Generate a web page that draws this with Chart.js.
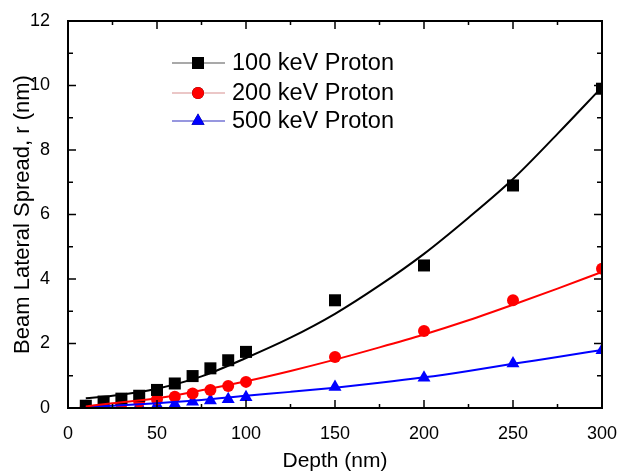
<!DOCTYPE html>
<html>
<head>
<meta charset="utf-8">
<script src="https://cdn.jsdelivr.net/npm/chart.js@4.4.0/dist/chart.umd.min.js"></script>
<style>
    html, body { margin: 0; padding: 0; background: #fff; }
</style>
</head>
<body>
<canvas id="chart" width="617" height="474"></canvas>
<script>
// measured points
const depths = [10, 20, 30, 40, 50, 60, 70, 80, 90, 100, 150, 200, 250, 300];
const spread100 = [0.07, 0.2, 0.29, 0.38, 0.56, 0.76, 0.99, 1.23, 1.48, 1.74, 3.34, 4.42, 6.9, 9.9];
const spread200 = [0.05, 0.07, 0.12, 0.19, 0.27, 0.35, 0.45, 0.56, 0.68, 0.81, 1.58, 2.39, 3.34, 4.32];
const spread500 = [0.03, 0.04, 0.05, 0.07, 0.09, 0.12, 0.19, 0.23, 0.27, 0.33, 0.65, 0.94, 1.38, 1.79];

// fit curves
const fitDepths = [10, 25, 50, 75, 100, 125, 150, 175, 200, 225, 250, 275, 300];
const fit100 = [0.3, 0.38, 0.6, 0.98, 1.55, 2.18, 2.92, 3.8, 4.78, 5.9, 7.1, 8.5, 9.95];
const fit200 = [0.05, 0.15, 0.3, 0.55, 0.83, 1.15, 1.5, 1.88, 2.28, 2.72, 3.2, 3.7, 4.22];
const fit500 = [0.03, 0.07, 0.15, 0.25, 0.38, 0.5, 0.63, 0.78, 0.95, 1.15, 1.37, 1.58, 1.8];

const xTicks = [0, 50, 100, 150, 200, 250, 300];
const yTicks = [0, 2, 4, 6, 8, 10, 12];

const series = [
    { label: '100 keV Proton', pts: spread100, fit: fit100, color: '#000000', legendLine: '#555555', shape: 'rect', radius: 8.5 },
    { label: '200 keV Proton', pts: spread200, fit: fit200, color: '#ff0000', legendLine: '#d89090', shape: 'circle', radius: 6 },
    { label: '500 keV Proton', pts: spread500, fit: fit500, color: '#0000ff', legendLine: '#3030c0', shape: 'triangle', radius: 7.5 }
];

const toXY = (xs, ys) => xs.map((x, i) => ({ x: x, y: ys[i] }));

const datasets = [];
series.forEach(s => {
    datasets.push({
        label: s.label + ' fit',
        data: toXY(fitDepths, s.fit),
        borderColor: s.color,
        borderWidth: 2,
        pointRadius: 0,
        showLine: true,
        cubicInterpolationMode: 'monotone',
        fill: false
    });
});
series.forEach(s => {
    datasets.push({
        label: s.label,
        data: toXY(depths, s.pts),
        backgroundColor: s.color,
        borderColor: s.color,
        borderWidth: 0,
        pointStyle: s.shape,
        pointRadius: s.radius,
        showLine: false
    });
});

const frameAndLegend = {
    id: 'frameAndLegend',
    afterDraw(chart) {
        const { ctx, chartArea: a, scales: { x, y } } = chart;
        ctx.save();
        ctx.strokeStyle = '#000';
        ctx.lineWidth = 1.5;
        ctx.beginPath();
        for (let v = 0; v <= 300; v += 25) {
            const px = x.getPixelForValue(v);
            const len = v % 50 ? 4 : 8;
            ctx.moveTo(px, a.bottom); ctx.lineTo(px, a.bottom - len);
            ctx.moveTo(px, a.top); ctx.lineTo(px, a.top + len);
        }
        for (let v = 0; v <= 12; v += 1) {
            const py = y.getPixelForValue(v);
            const len = v % 2 ? 5 : 8;
            ctx.moveTo(a.left, py); ctx.lineTo(a.left + len, py);
            ctx.moveTo(a.right, py); ctx.lineTo(a.right - len, py);
        }
        ctx.stroke();
        ctx.lineWidth = 2;
        ctx.strokeRect(a.left, a.top, a.width, a.height);

        // legend: line - marker - line
        const rows = [63, 93, 121];
        ctx.font = '23.5px Arial, "Liberation Sans", sans-serif';
        ctx.textBaseline = 'middle';
        ctx.fillStyle = '#000';
        series.forEach((s, i) => {
            const ly = rows[i];
            ctx.strokeStyle = s.legendLine;
            ctx.lineWidth = 1.2;
            ctx.beginPath();
            ctx.moveTo(172, ly); ctx.lineTo(225, ly);
            ctx.stroke();
            Chart.helpers.drawPoint(ctx, {
                pointStyle: s.shape, radius: s.radius, borderWidth: 0, rotation: 0
            }, 198, ly);
            ctx.fillStyle = s.color;
            ctx.fill();
            ctx.fillStyle = '#000';
            ctx.fillText(s.label, 232, ly + 1);
        });
        ctx.restore();
    }
};

new Chart(document.getElementById('chart').getContext('2d'), {
    type: 'scatter',
    data: { datasets: datasets },
    options: {
        responsive: false,
        animation: false,
        layout: { padding: { top: 21, right: 15, left: 6, bottom: 0 } },
        plugins: { legend: { display: false }, tooltip: { enabled: false } },
        scales: {
            x: {
                type: 'linear',
                min: 0,
                max: 300,
                afterBuildTicks: scale => { scale.ticks = xTicks.map(v => ({ value: v })); },
                afterFit: scale => { scale.height = 66; scale.paddingRight = 0; scale.paddingLeft = 0; },
                grid: { display: false },
                border: { display: false },
                ticks: { color: '#000', font: { family: 'Arial', size: 18 }, padding: 7 },
                title: { display: true, text: 'Depth (nm)', color: '#000', font: { family: 'Arial', size: 21 }, padding: { top: 0, bottom: 0 } }
            },
            y: {
                min: 0,
                max: 12,
                afterBuildTicks: scale => { scale.ticks = yTicks.map(v => ({ value: v })); },
                afterFit: scale => { scale.width = 62; scale.paddingTop = 0; scale.paddingBottom = 0; },
                grid: { display: false },
                border: { display: false },
                ticks: { color: '#000', font: { family: 'Arial', size: 18 }, padding: 10 },
                title: { display: true, text: 'Beam Lateral Spread, r (nm)', color: '#000', font: { family: 'Arial', size: 22 }, padding: { bottom: 2 } }
            }
        }
    },
    plugins: [frameAndLegend]
});
</script>
</body>
</html>
